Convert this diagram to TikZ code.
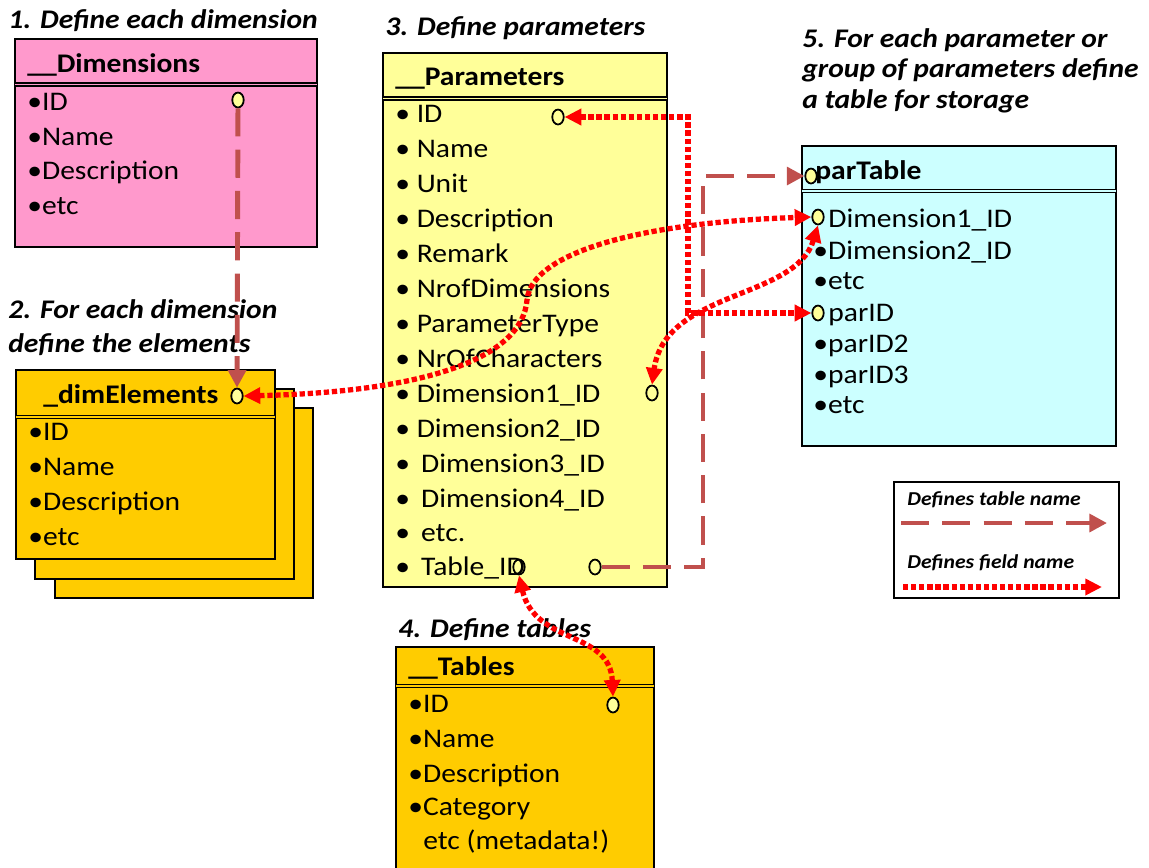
\documentclass[tikz,border=0pt]{standalone}
\usepackage{fontspec}
\setmainfont{Carlito}[FakeStretch=1.1]
\usetikzlibrary{arrows.meta,positioning,fit,shapes.geometric}

\definecolor{dimpink}{RGB}{255,153,204}
\definecolor{elemgold}{RGB}{255,204,0}
\definecolor{paryellow}{RGB}{255,255,153}
\definecolor{ptcyan}{RGB}{204,255,255}
\definecolor{keyfill}{RGB}{255,255,153}
\definecolor{tblbrown}{RGB}{192,80,77}
\definecolor{fldred}{RGB}{255,0,0}

\begin{document}
\begin{tikzpicture}[
  x=0.02cm, y=-0.02cm,
  tblbox/.style={draw=black,line width=1.3pt,inner sep=0pt},
  hdrline/.style={draw=black,line width=0.8pt,double distance=1.1pt},
  field/.style={anchor=base west,inner sep=0pt,font=\fontsize{15.3}{18}\selectfont},
  hdr/.style={field,font=\fontsize{15.3}{18}\selectfont\bfseries},
  stephead/.style={anchor=base west,inner sep=0pt,
                   font=\fontsize{15.3}{18}\selectfont\bfseries\itshape},
  legtext/.style={anchor=base west,inner sep=0pt,
                  font=\fontsize{11.2}{13}\selectfont\bfseries\itshape},
  key/.style={ellipse,draw=black,line width=1pt,fill=keyfill,
              minimum width=6.5pt,minimum height=8.5pt,inner sep=0pt},
  tblarrow/.style={draw=tblbrown,line width=2.8pt,dash pattern=on 16pt off 7.5pt,
                   -{Triangle[length=10pt,width=10pt]}},
  fldarrow/.style={draw=fldred,line width=3pt,dash pattern=on 3pt off 1.6pt,
                   {Triangle[length=9.5pt,width=9pt]}-{Triangle[length=9.5pt,width=9pt]}},
]
\useasboundingbox (0,0) rectangle (1149,867);
\fill[white] (0,0) rectangle (1149,867);

% 1. dimensions
\node[stephead] (step1) at (8,28) {1. Define each dimension};
\node[tblbox,fill=dimpink,fit={(15,39) (317,247)}] (dims) {};
\draw[hdrline,double=dimpink] (15,84.5) -- (317,84.5);
\node[hdr] (dimshdr) at (27,72) {\_\_Dimensions};
\foreach \yy/\txt [count=\i] in {110/ID,145/Name,179/Description,214/etc}
  \node[field] (dimf\i) at (27,\yy) {•\txt};
\node[key] (dimid) at (238,100) {};

% 2. elements, stacked copies
\node[stephead] (step2a) at (8,318) {2. For each dimension};
\node[stephead] (step2b) at (8,352) {define the elements};
\node[tblbox,fill=elemgold,fit={(55,408) (313,598)}] (elemback) {};
\node[tblbox,fill=elemgold,fit={(35,389) (294,579)}] (elemmid) {};
\node[tblbox,fill=elemgold,fit={(16,370) (275,559)}] (elems) {};
\draw[hdrline,double=elemgold] (16,417) -- (275,417);
\node[hdr] (elemshdr) at (43,403) {\_dimElements};
\foreach \yy/\txt [count=\i] in {440/ID,475/Name,510/Description,545/etc}
  \node[field] (elemf\i) at (28,\yy) {•\txt};
\node[key] (elemid) at (237,396) {};

% 3. parameters
\node[stephead] (step3) at (385,35) {3. Define parameters};
\node[tblbox,fill=paryellow,fit={(383,53) (667,587)}] (pars) {};
\draw[hdrline,double=paryellow] (383,98.5) -- (667,98.5);
\node[hdr] (parshdr) at (395,85) {\_\_Parameters};
\foreach \yy/\pad/\txt [count=\i] in {122/0/ID,157/0/Name,192/0/Unit,227/0/Description,
    262/0/Remark,297/0/NrofDimensions,332/0/ParameterType,367/0/NrOfCharacters,
    402/0/Dimension1\_ID,437/0/Dimension2\_ID,472/2.5/Dimension3\_ID,
    507/2.5/Dimension4\_ID,541/2.5/etc.,575/2.5/Table\_ID}
  \node[field] (parf\i) at (395,\yy) {• \hspace{\pad pt}\txt};
\node[key,fill=none] (parid) at (558,117) {};
\node[key,fill=none] (pardim1) at (652,393) {};
\node[key,fill=none] (tblid) at (519,567) {};
\node[key,fill=none] (tblref) at (595,567) {};

% 4. tables
\node[stephead] (step4) at (398,637) {4. Define tables};
\node[tblbox,fill=elemgold,fit={(396,647) (654,880)}] (tabs) {};
\draw[hdrline,double=elemgold] (396,686) -- (654,686);
\node[hdr] (tabshdr) at (408,675) {\_\_Tables};
\foreach \yy/\txt [count=\i] in {712/ID,747/Name,782/Description,815/Category}
  \node[field] (tabf\i) at (408,\yy) {•\txt};
\node[field] (tabf5) at (423,849) {etc (metadata!)};
\node[key] (tabid) at (613,705) {};

% 5. storage table
\node[stephead] (step5a) at (802,47) {5. For each parameter or};
\node[stephead] (step5b) at (802,77) {group of parameters define};
\node[stephead] (step5c) at (802,108) {a table for storage};
\node[tblbox,fill=ptcyan,fit={(802,146) (1116,446)}] (ptab) {};
\draw[hdrline,double=ptcyan] (802,191) -- (1116,191);
\node[hdr] (ptabhdr) at (815,179) {parTable};
\node[field] (ptf1) at (828,227) {Dimension1\_ID};
\node[field] (ptf2) at (813,259) {•Dimension2\_ID};
\node[field] (ptf3) at (813,289) {•etc};
\node[field] (ptf4) at (828,321) {parID};
\node[field] (ptf5) at (813,352) {•parID2};
\node[field] (ptf6) at (813,383) {•parID3};
\node[field] (ptf7) at (813,413) {•etc};
\node[key] (ptname) at (811,176) {};
\node[key] (ptdim1) at (818,217) {};
\node[key] (ptparid) at (818,313) {};

% legend
\node[tblbox,fill=white,line width=1.2pt,fit={(894,482) (1119,598)}] (legend) {};
\node[legtext] (legtbl) at (907,505) {Defines table name};
\node[legtext] (legfld) at (907,568) {Defines field name};
\coordinate (legA) at (901,523);
\coordinate (legB) at (1107,523);
\coordinate (legC) at (903,587);
\coordinate (legD) at (1102,587);
\draw[tblarrow] (legA) -- (legB);
\draw[fldarrow,-{Triangle[length=9.5pt,width=9pt]}] (legC) -- (legD);

% table-name links
\coordinate (tblbend) at (703,567);
\draw[tblarrow] (dimid) -- (elemid);
\draw[tblarrow] (tblref) -- (tblbend) |- (ptname);

% field-name links
\coordinate (fldbend) at (688,117);
\coordinate (dimbend) at (527,300);
\draw[fldarrow] (parid) -- (fldbend) |- (ptparid);
\draw[fldarrow] (elemid.east) .. controls (420,392) and (522,360) .. (dimbend)
  .. controls (532,250) and (650,222) .. (ptdim1.west);
\draw[fldarrow] (ptdim1.south) .. controls (795,300) and (665,290) .. (pardim1.north);
\draw[fldarrow] (tblid.south) .. controls (535,645) and (610,630) .. (tabid.north);
\end{tikzpicture}
\end{document}
